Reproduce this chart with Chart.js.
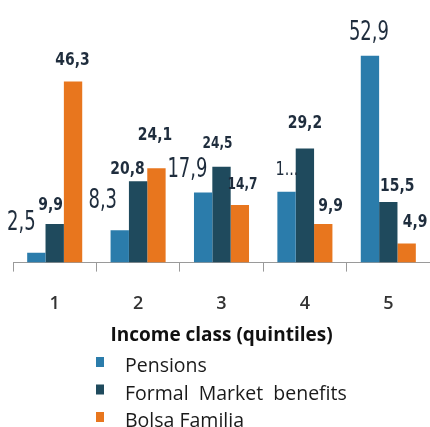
<!DOCTYPE html>
<html>
<head>
<meta charset="utf-8">
<script src="https://cdn.jsdelivr.net/npm/chart.js@4.4.1/dist/chart.umd.min.js"></script>
<style>
  html, body { margin: 0; padding: 0; background: #ffffff; }
  canvas { display: block; }
</style>
</head>
<body>
<canvas id="c" width="430" height="427"></canvas>
<script>
// ---- Data ----
const categories = ['1', '2', '3', '4', '5'];
const seriesNames = ['Pensions', 'Formal  Market  benefits', 'Bolsa Familia'];
const pensions = [2.5, 8.3, 17.9, 18.1, 52.9];
const formalBenefits = [9.9, 20.8, 24.5, 29.2, 15.5];
const bolsaFamilia = [46.3, 24.1, 14.7, 9.9, 4.9];
const xTitle = 'Income class (quintiles)';
// the reference truncates one label
const labelOverrides = { '0-3': '1...' };

// ---- Styles ----
const colors = ['#2b7cab', '#1f4a5d', '#e8761e'];
const labelColor = '#1f2d3d';
const labelStyles = {
  L: { font: 'normal 20px "DejaVu Sans Condensed", "DejaVu Sans"', sy: 1.3 },
  B: { font: 'bold 15.5px "DejaVu Sans Condensed", "DejaVu Sans"', sy: 1.15 },
  M: { font: 'bold 13.5px "DejaVu Sans Condensed", "DejaVu Sans"', sy: 1.15 },
  N: { font: 'normal 16px "DejaVu Sans Condensed", "DejaVu Sans"', sy: 1.2 }
};
// [style, dx, dy] of label centre relative to the top-centre of its bar
const labelLayout = [
  [['L', -15, -30], ['L', -17, -29], ['L', -15.7, -22], ['N', 0.4, -22], ['L', -1, -23]],
  [['B', -4, -19], ['B', -10.6, -12], ['M', -4, -22.5], ['B', 0, -25], ['B', 9, -15.5]],
  [['B', -0.5, -21], ['B', -1.4, -33], ['M', 2.7, -20], ['B', 7.3, -18], ['B', 8.4, -21]]
];

function fmt(v) { return v.toFixed(1).replace('.', ','); }

const valueLabels = {
  id: 'valueLabels',
  afterDatasetsDraw(chart) {
    const ctx = chart.ctx;
    chart.data.datasets.forEach((ds, di) => {
      const meta = chart.getDatasetMeta(di);
      meta.data.forEach((bar, i) => {
        const [styleKey, dx, dy] = labelLayout[di][i];
        const st = labelStyles[styleKey];
        const key = di + '-' + i;
        const text = labelOverrides[key] !== undefined ? labelOverrides[key] : fmt(ds.data[i]);
        ctx.save();
        ctx.translate(bar.x + dx, bar.y + dy);
        ctx.scale(1, st.sy);
        ctx.font = st.font;
        ctx.fillStyle = labelColor;
        ctx.textAlign = 'center';
        ctx.textBaseline = 'middle';
        ctx.fillText(text, 0, 0);
        ctx.restore();
      });
    });
  }
};

const listLegend = {
  id: 'listLegend',
  afterDraw(chart) {
    const ctx = chart.ctx;
    const o = chart.options.plugins.listLegend;
    chart.data.datasets.forEach((ds, i) => {
      const base = o.firstBaseline + i * o.rowPitch;
      ctx.save();
      ctx.fillStyle = ds.backgroundColor;
      ctx.fillRect(o.boxX, base - o.boxOffset, o.boxW, o.boxH);
      ctx.fillStyle = o.color;
      ctx.font = o.font;
      ctx.textAlign = 'left';
      ctx.textBaseline = 'alphabetic';
      ctx.fillText(ds.label, o.textX, base);
      ctx.restore();
    });
  }
};

const seriesData = [pensions, formalBenefits, bolsaFamilia];

new Chart(document.getElementById('c'), {
  type: 'bar',
  data: {
    labels: categories,
    datasets: seriesData.map((d, i) => ({
      label: seriesNames[i],
      data: d,
      backgroundColor: colors[i],
      borderWidth: 0,
      categoryPercentage: 0.66,
      barPercentage: 1.0
    }))
  },
  plugins: [valueLabels, listLegend],
  options: {
    responsive: false,
    animation: false,
    layout: { padding: { left: 13, right: 0, top: 28, bottom: 80 } },
    plugins: {
      legend: { display: false },
      tooltip: { enabled: false },
      listLegend: {
        firstBaseline: 372, rowPitch: 27.5,
        boxX: 96, boxW: 8, boxH: 10, boxOffset: 15,
        textX: 125, color: '#1a1a1a',
        font: 'normal 19.5px "Open Sans"'
      }
    },
    scales: {
      y: { display: false, min: 0, max: 60 },
      x: {
        grid: { display: true, drawOnChartArea: false, drawTicks: true, tickLength: 9, color: '#9a9a9a', offset: true },
        border: { display: true, color: '#9a9a9a' },
        ticks: { color: '#333333', font: { family: 'Open Sans', size: 18, weight: '600' }, padding: 21 },
        title: {
          display: true, text: xTitle, color: '#111111',
          font: { family: 'Open Sans', size: 19, weight: 'bold' },
          padding: { top: -11, bottom: 0 }
        }
      }
    }
  }
});
</script>
</body>
</html>
